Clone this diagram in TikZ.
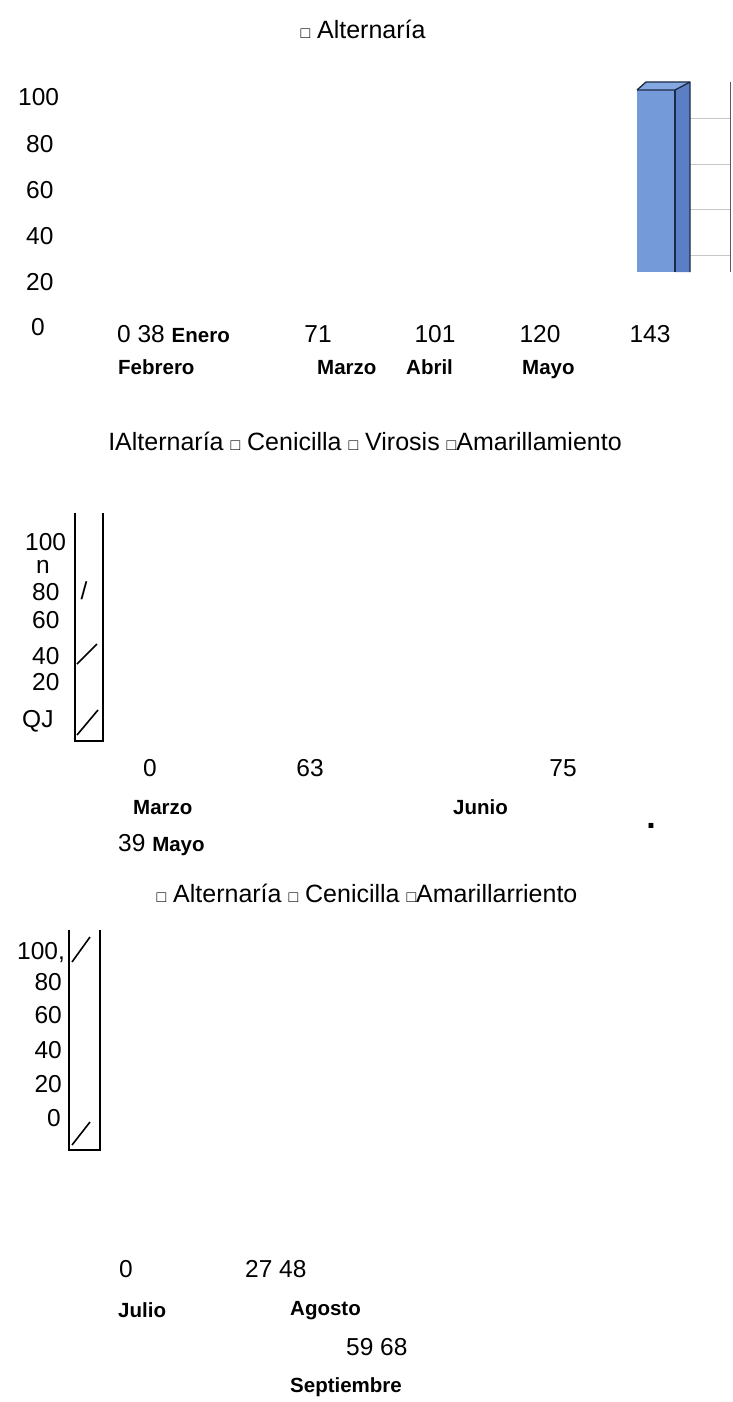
\documentclass[tikz,border=0pt]{standalone}
\usepackage{fontspec}
\setmainfont{Liberation Sans}
\usepackage{xcolor}
\usepackage{tikz}

\definecolor{barfront}{RGB}{116,154,218}
\definecolor{barside}{RGB}{92,126,196}
\definecolor{bartop}{RGB}{134,168,224}
\definecolor{barline}{RGB}{28,43,69}
\definecolor{gridgray}{RGB}{200,200,200}

\tikzset{
  num/.style={font=\fontsize{24.5}{26}\selectfont, inner sep=0pt},
  mes/.style={font=\fontsize{20.5}{22}\selectfont\bfseries, inner sep=0pt},
  leyenda/.style={font=\fontsize{25}{27}\selectfont, inner sep=0pt},
  caja/.style={line width=1.2pt},
  raya/.style={line width=1.6pt}
}
\newcommand{\cuadro}{{\fontsize{16}{17}\selectfont □}}
\newcommand{\mesb}[1]{{\fontsize{20.5}{22}\selectfont\bfseries #1}}

\begin{document}
\begin{tikzpicture}[x=1pt,y=-1pt]
\useasboundingbox[fill=white] (0,0) rectangle (732,1402);

% primer grafico
\node[leyenda, anchor=base] (tit1) at (363,39) {\cuadro\ Alternaría};
\node[num, anchor=base west] (y1a) at (18,106) {100};
\node[num, anchor=base west] (y1b) at (26,152) {80};
\node[num, anchor=base west] (y1c) at (26,198) {60};
\node[num, anchor=base west] (y1d) at (26,244) {40};
\node[num, anchor=base west] (y1e) at (26,290) {20};
\node[num, anchor=base west] (y1f) at (31,335) {0};

\draw[gridgray, thin] (690,118)--(730,118);
\draw[gridgray, thin] (690,164)--(730,164);
\draw[gridgray, thin] (690,209)--(730,209);
\draw[gridgray, thin] (690,255)--(730,255);
\draw[gray!70!black, thick] (730,82)--(730,272);
\fill[barfront] (637,90)--(675,90)--(675,272)--(637,272)--cycle;
\fill[barside] (675,90)--(690,82)--(690,272)--(675,272)--cycle;
\fill[bartop] (637,90)--(646,82)--(690,82)--(675,90)--cycle;
\draw[barline, line width=1.3pt, line join=round] (637,90)--(646,82)--(690,82)--(690,272);
\draw[barline, line width=1.3pt, line join=round] (637,90)--(675,90)--(690,82);
\draw[barline, line width=1.3pt] (675,90)--(675,272);

\node[num, anchor=base west] (x1a) at (117,342) {0 38 \mesb{Enero}};
\node[num, anchor=base] (x1b) at (318,342) {71};
\node[num, anchor=base] (x1c) at (435,342) {101};
\node[num, anchor=base] (x1d) at (540,342) {120};
\node[num, anchor=base] (x1e) at (650,342) {143};
\node[mes, anchor=base west] (m1a) at (118,374) {Febrero};
\node[mes, anchor=base west] (m1b) at (317,374) {Marzo};
\node[mes, anchor=base west] (m1c) at (406,374) {Abril};
\node[mes, anchor=base west] (m1d) at (522,374) {Mayo};

% segundo grafico
\node[leyenda, anchor=base] (tit2) at (365,450) {IAlternaría \cuadro\ Cenicilla \cuadro\ Virosis \cuadro Amarillamiento};
\draw[caja] (75,513)--(75,741)--(103,741)--(103,513);
\node[num, anchor=base west] (y2a) at (25,550) {100};
\node[num, anchor=base] (y2b) at (43,573) {n};
\node[num, anchor=base west] (y2c) at (32,600) {80};
\node[num, anchor=base west] (y2d) at (32,628) {60};
\node[num, anchor=base west] (y2e) at (32,664) {40};
\node[num, anchor=base west] (y2f) at (32,690) {20};
\node[num, anchor=base west] (y2g) at (22,727) {QJ};
\node[num] (s2a) at (84,591) {/};
\draw[raya] (77,664)--(97,644);
\draw[raya] (77,735)--(98,710);

\node[num, anchor=base] (x2a) at (150,776) {0};
\node[num, anchor=base] (x2b) at (310,776) {63};
\node[num, anchor=base] (x2c) at (563,776) {75};
\node[mes, anchor=base west] (m2a) at (133,814) {Marzo};
\node[mes, anchor=base west] (m2b) at (453,814) {Junio};
\node[mes, font=\fontsize{34}{36}\selectfont\bfseries] (pto) at (651,826) {.};
\node[num, anchor=base west] (x2d) at (118,851) {39 \mesb{Mayo}};

% tercer grafico
\node[leyenda, anchor=base] (tit3) at (367,902) {\cuadro\ Alternaría \cuadro\ Cenicilla \cuadro Amarillarriento};
\draw[caja] (69,930)--(69,1150)--(100,1150)--(100,930);
\node[num, anchor=base west] (y3a) at (17,959) {100,};
\node[num, anchor=base east] (y3b) at (62,990) {80};
\node[num, anchor=base east] (y3c) at (62,1023) {60};
\node[num, anchor=base east] (y3d) at (62,1058) {40};
\node[num, anchor=base east] (y3e) at (62,1092) {20};
\node[num, anchor=base east] (y3f) at (61,1126) {0};
\draw[raya] (72,962)--(90,937);
\draw[raya] (72,1145)--(90,1122);

\node[num, anchor=base west] (x3a) at (119,1277) {0};
\node[num, anchor=base west] (x3b) at (245,1277) {27 48};
\node[mes, anchor=base west] (m3a) at (118,1317) {Julio};
\node[mes, anchor=base west] (m3b) at (290,1315) {Agosto};
\node[num, anchor=base west] (x3c) at (346,1355) {59 68};
\node[mes, anchor=base west] (m3c) at (290,1392) {Septiembre};
\end{tikzpicture}
\end{document}
